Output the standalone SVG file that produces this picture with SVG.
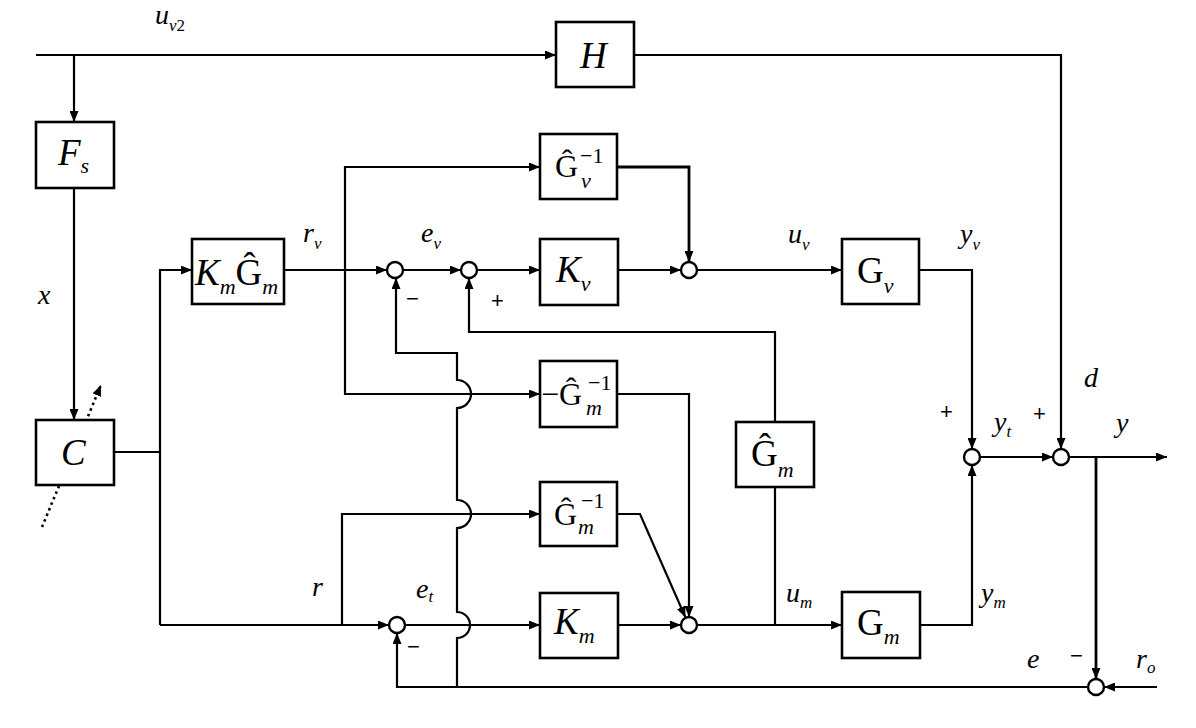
<svg xmlns="http://www.w3.org/2000/svg" width="1196" height="728" viewBox="0 0 1196 728">
<style>
.ln{fill:none;stroke:#000;stroke-width:2.2}
.bx{fill:#fff;stroke:#000;stroke-width:2.6}
.sj{fill:#fff;stroke:#000;stroke-width:2.4}
text{font-family:'Liberation Serif','DejaVu Serif',serif;fill:#000}
.i{font-style:italic}
.r{font-style:normal}
.big{font-size:37px}
.mid{font-size:32px}
.sub{font-size:22px}
.lab{font-size:28px;font-style:italic}
.ls{font-size:17px}
text.sg{font-family:'Liberation Sans','DejaVu Sans',sans-serif;font-size:22px}
</style>
<defs>
<marker id="ar" markerUnits="userSpaceOnUse" markerWidth="11" markerHeight="9" refX="11" refY="4.5" orient="auto">
<path d="M0,0 L11,4.5 L0,9 z" fill="#000"/>
</marker>
</defs>
<rect width="1196" height="728" fill="#fff"/>
<g id="connectors">
<path class="ln" d="M36,55 H556" marker-end="url(#ar)"/>
<path class="ln" d="M74,55 V122" marker-end="url(#ar)"/>
<path class="ln" d="M74,188 V420" marker-end="url(#ar)"/>
<path d="M42,527 L101,385" fill="none" stroke="#000" stroke-width="2.6" stroke-dasharray="2.5 3.5" marker-end="url(#ar)"/>
<path class="ln" d="M114,452 H160"/>
<path class="ln" d="M160,625 V270 H192" marker-end="url(#ar)"/>
<path class="ln" d="M160,625 H389" marker-end="url(#ar)"/>
<path class="ln" d="M284,270 H387" marker-end="url(#ar)"/>
<path class="ln" d="M345,270 V167 H540" marker-end="url(#ar)"/>
<path class="ln" d="M345,270 V394 H540" marker-end="url(#ar)"/>
<path class="ln" d="M403,270 H461" marker-end="url(#ar)"/>
<path class="ln" d="M477,270 H540" marker-end="url(#ar)"/>
<path class="ln" d="M618,270 H681" marker-end="url(#ar)"/>
<path class="ln" style="stroke-width:2.8" d="M617,167 H689 V262" marker-end="url(#ar)"/>
<path class="ln" d="M697,270 H842" marker-end="url(#ar)"/>
<path class="ln" d="M919,270 H972 V449" marker-end="url(#ar)"/>
<path class="ln" d="M1088,687 H397 V633" marker-end="url(#ar)"/>
<path class="ln" d="M457,687 V638 A13,13 0 0 0 457,612 V528 A14,14 0 0 0 457,500 V408 A14,14 0 0 0 457,380 V353 H396 V278" marker-end="url(#ar)"/>
<path class="ln" d="M775,422 V332 H469 V278" marker-end="url(#ar)"/>
<path class="ln" d="M775,487 V625"/>
<path class="ln" d="M617,394 H689 V617" marker-end="url(#ar)"/>
<path class="ln" d="M342,625 V514 H540" marker-end="url(#ar)"/>
<path class="ln" d="M617,514 H640 L685.5,617.5" marker-end="url(#ar)"/>
<path class="ln" d="M405,625 H540" marker-end="url(#ar)"/>
<path class="ln" d="M618,625 H681" marker-end="url(#ar)"/>
<path class="ln" d="M697,625 H842" marker-end="url(#ar)"/>
<path class="ln" d="M920,625 H972 V465" marker-end="url(#ar)"/>
<path class="ln" d="M980,457 H1053" marker-end="url(#ar)"/>
<path class="ln" d="M634,55 H1061 V449" marker-end="url(#ar)"/>
<path class="ln" d="M1069,457 H1167" marker-end="url(#ar)"/>
<path class="ln" style="stroke-width:2.8" d="M1096,457 V679" marker-end="url(#ar)"/>
<path class="ln" d="M1157,687 H1104" marker-end="url(#ar)"/>
</g>
<g id="Fs"><rect class="bx" x="36" y="122" width="78" height="66"/>
<text class="i big" x="58" y="165">F<tspan class="sub" dy="8">s</tspan></text></g>
<g id="C"><rect class="bx" x="36" y="420" width="78" height="65"/>
<text class="i big" x="61" y="465">C</text></g>
<g id="H"><rect class="bx" x="556" y="22" width="78" height="65"/>
<text class="i big" x="580" y="68">H</text></g>
<g id="KmGm"><rect class="bx" x="192" y="239" width="92" height="65"/>
<text class="i big" x="195" y="285">K<tspan class="sub" dy="9">m</tspan><tspan class="r" dy="-9">Ĝ</tspan><tspan class="sub" dy="9">m</tspan></text></g>
<g id="Gv_inv"><rect class="bx" x="540" y="134" width="77" height="65"/>
<text class="mid" x="555" y="177">Ĝ</text><text class="sub" x="580" y="163">−1</text><text class="i sub" x="581" y="188">v</text></g>
<g id="Kv"><rect class="bx" x="540" y="239" width="78" height="66"/>
<text class="i big" x="556" y="282">K<tspan class="sub" dy="9">v</tspan></text></g>
<g id="Gv"><rect class="bx" x="842" y="239" width="77" height="65"/>
<text class="big" x="857" y="283">G<tspan class="i sub" dy="10">v</tspan></text></g>
<g id="negGm_inv"><rect class="bx" x="540" y="361" width="77" height="66"/>
<text class="mid" x="541" y="405">−Ĝ</text><text class="sub" x="588" y="390">−1</text><text class="i sub" x="586" y="415">m</text></g>
<g id="Gm_hat"><rect class="bx" x="736" y="422" width="78" height="65"/>
<text class="big" x="751" y="466">Ĝ<tspan class="i sub" dy="11">m</tspan></text></g>
<g id="Gm_inv"><rect class="bx" x="540" y="482" width="77" height="64"/>
<text class="mid" x="554" y="525">Ĝ</text><text class="sub" x="581" y="508">−1</text><text class="i sub" x="578" y="534">m</text></g>
<g id="Km"><rect class="bx" x="540" y="593" width="78" height="65"/>
<text class="i big" x="554" y="634">K<tspan class="sub" dy="9">m</tspan></text></g>
<g id="Gm"><rect class="bx" x="842" y="592" width="78" height="66"/>
<text class="big" x="857" y="635">G<tspan class="i sub" dy="9">m</tspan></text></g>
<g id="junctions">
<circle class="sj" cx="395" cy="270" r="8"/>
<circle class="sj" cx="469" cy="270" r="8"/>
<circle class="sj" cx="689" cy="270" r="8"/>
<circle class="sj" cx="972" cy="457" r="8"/>
<circle class="sj" cx="689" cy="625" r="8"/>
<circle class="sj" cx="1061" cy="457" r="8"/>
<circle class="sj" cx="397" cy="625" r="8"/>
<circle class="sj" cx="1096" cy="687" r="8"/>
</g>
<g id="labels">
<text class="lab" x="155" y="24">u<tspan class="ls" dy="7">v</tspan><tspan class="ls r">2</tspan></text>
<text class="lab" x="38" y="304">x</text>
<text class="lab" x="303" y="242">r<tspan class="ls" dy="7">v</tspan></text>
<text class="lab" x="421" y="242">e<tspan class="ls" dy="7">v</tspan></text>
<text class="lab" x="788" y="243">u<tspan class="ls" dy="7">v</tspan></text>
<text class="lab" x="960" y="243">y<tspan class="ls" dy="7">v</tspan></text>
<text class="lab" x="312" y="596">r</text>
<text class="lab" x="416" y="598">e<tspan class="ls" dy="4">t</tspan></text>
<text class="lab" x="786" y="602">u<tspan class="ls" dy="6">m</tspan></text>
<text class="lab" x="981" y="602">y<tspan class="ls" dy="6">m</tspan></text>
<text class="lab" x="994" y="431">y<tspan class="ls" dy="6">t</tspan></text>
<text class="lab" x="1084" y="387">d</text>
<text class="lab" x="1116" y="432">y</text>
<text class="lab" x="1027" y="668">e</text>
<text class="lab" x="1136" y="668">r<tspan class="ls" dy="5">o</tspan></text>
<text class="sg" x="406" y="306">−</text>
<text class="sg" x="491" y="308">+</text>
<text class="sg" x="407" y="654">−</text>
<text class="sg" x="940" y="419">+</text>
<text class="sg" x="1033" y="421">+</text>
<text class="sg" x="1070" y="663">−</text>
</g>
</svg>
